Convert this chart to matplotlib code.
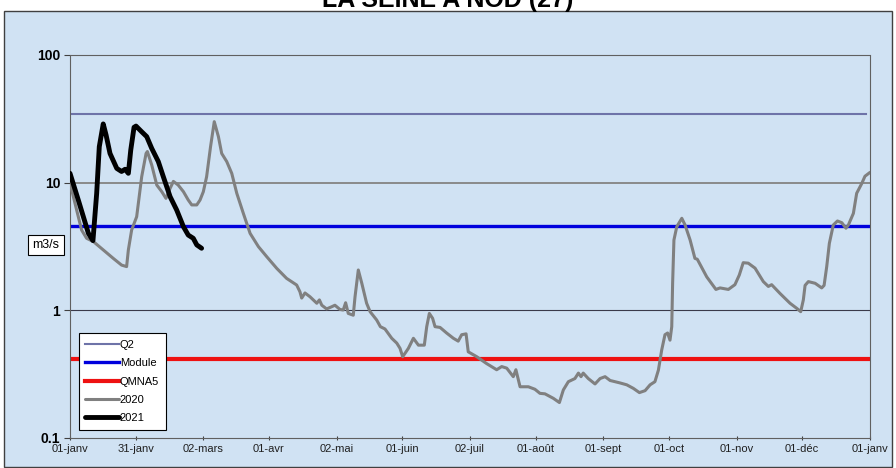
#!/usr/bin/env python3
"""Débits journaliers 2020 / 2021 avec seuils Q2, Module et QMNA5 (échelle log)."""

import matplotlib
matplotlib.use("Agg")
import matplotlib.pyplot as plt
from matplotlib.patches import Rectangle

plt.rcParams['font.family'] = ['Liberation Sans', 'DejaVu Sans']

# Seuils (m3/s)
q2 = 34.3
module = 4.58
qmna5 = 0.413

# Jours depuis le 1er janvier et débits
days_2020 = [0, 3, 5.3, 7.6, 10.7, 15.2, 19.8, 23.6, 25.9, 26.7, 28.2, 30.5, 32.8, 34.8,
             35.4, 37.4, 39.7, 42.0, 43.9, 45.8, 47.3, 49.5, 51.9, 54.1, 55.7, 58.0, 59.5,
             61.0, 62.5, 64.3, 66.0, 67.9, 69.4, 71.7, 74.0, 76.3, 79.3, 82.4, 86.2, 90.0,
             94.6, 99.1, 103.7, 105.2, 106.0, 107.5, 109.8, 112.9, 114.1, 115.2, 117.4,
             119.7, 121.2, 123.5, 125.0, 126.1, 127.3, 129.6, 130.4, 131.9, 133.5, 135.7,
             137.3, 140.3, 142.0, 144.1, 147.2, 149.5, 151.0, 152.2, 154.8, 157.1, 159.4,
             162.1, 163.2, 164.4, 165.9, 167.0, 169.3, 172.3, 175.4, 177.6, 179.2, 181.2,
             182.2, 186.1, 190.6, 195.2, 197.5, 199.8, 202.8, 204.0, 205.9, 209.7, 212.7,
             215.0, 217.3, 221.1, 223.9, 225.7, 228.0, 231.0, 232.6, 233.8, 234.8, 237.1,
             240.2, 242.5, 244.8, 247.1, 251.6, 254.7, 257.7, 260.5, 263.1, 265.4, 267.6,
             269.2, 270.7, 272.2, 273.4, 274.5, 275.3, 275.7, 276.3, 277.6, 279.9, 281.4,
             283.7, 285.9, 287.0, 291.3, 295.5, 297.4, 301.2, 304.2, 306.2, 308.0, 310.3,
             313.4, 317.2, 319.5, 321.0, 324.8, 329.4, 332.5, 334.3, 335.5, 336.3, 337.8,
             340.9, 343.9, 345.0, 346.2, 347.4, 349.2, 351.1, 353.1, 355.0, 356.1, 358.4,
             359.9, 362.2, 363.7, 366]
flow_2020 = [9.9, 6.1, 4.24, 3.65, 3.44, 2.96, 2.54, 2.25, 2.19, 2.96, 4.24, 5.39, 11.1, 16.9,
             17.5, 13.7, 9.55, 8.47, 7.51, 9.0, 10.2, 9.55, 8.47, 7.29, 6.67, 6.67, 7.29,
             8.47, 11.1, 19.1, 30.0, 22.9, 16.9, 14.6, 11.8, 8.23, 5.73, 3.99, 3.14, 2.62,
             2.12, 1.77, 1.57, 1.39, 1.24, 1.36, 1.27, 1.13, 1.20, 1.09, 1.02,
             1.06, 1.09, 1.01, 1.0, 1.14, 0.94, 0.91, 1.27, 2.06, 1.62, 1.13,
             0.97, 0.835, 0.74, 0.71, 0.60, 0.55, 0.50, 0.43, 0.50, 0.60, 0.53,
             0.53, 0.74, 0.94, 0.86, 0.74, 0.73, 0.66, 0.60, 0.57, 0.64, 0.65,
             0.47, 0.43, 0.38, 0.34, 0.36, 0.35, 0.30, 0.34, 0.25, 0.25, 0.239,
             0.222, 0.22, 0.203, 0.188, 0.236, 0.274, 0.29, 0.32, 0.30, 0.32, 0.29,
             0.263, 0.29, 0.30, 0.28, 0.268, 0.259, 0.243, 0.225, 0.233, 0.259, 0.274,
             0.338, 0.485, 0.64, 0.66, 0.58, 0.74, 1.62, 3.54, 4.50, 5.24, 4.64,
             3.54, 2.54, 2.5, 1.82, 1.45, 1.49, 1.45, 1.58, 1.88, 2.35, 2.33,
             2.13, 1.67, 1.53, 1.58, 1.35, 1.13, 1.03, 0.97, 1.2, 1.56, 1.67,
             1.62, 1.49, 1.56, 2.19, 3.33, 4.64, 4.99, 4.84, 4.38, 4.64, 5.73,
             8.23, 9.8, 11.2, 12.0]

days_2021 = [0, 4, 8.4, 10.5, 12.2, 13.4, 15.2, 16.5, 18.3, 21.4, 23.6, 25.2, 26.7, 27.8,
             29.3, 30.2, 32.8, 35.1, 37.4, 40.4, 42.7, 45.8, 48.8, 51.9, 54.1, 56.4, 58.0, 60.2]
flow_2021 = [11.8, 7.1, 4.0, 3.5, 8.2, 19.1, 28.8, 23.6, 16.9, 12.9, 12.2, 12.7, 11.8, 18.0,
             27.1, 27.7, 25.0, 22.9, 18.5, 14.6, 11.1, 7.74, 6.09, 4.50, 3.87, 3.65, 3.24, 3.05]

tick_days = [0, 30, 61, 91, 122, 152, 183, 213, 244, 274, 305, 335, 366]
tick_labels = ['01-janv', '31-janv', '02-mars', '01-avr', '02-mai', '01-juin', '02-juil',
               '01-août', '01-sept', '01-oct', '01-nov', '01-déc', '01-janv']

W, H = 896, 468
fig = plt.figure(figsize=(W / 100, H / 100), dpi=100, facecolor='white')

# zone du graphique (fond bleu, bordure)
fig.patches.append(Rectangle((4 / W, 1 / H), 888 / W, (H - 12) / H, transform=fig.transFigure,
                             facecolor='#d0e2f3', edgecolor='#404040', linewidth=1.0, zorder=-10))

fig.text(0.5, 1 - 7 / H, 'LA SEINE A NOD (27)', ha='center', va='baseline',
         fontsize=18, fontweight='bold')

ax = fig.add_axes([70 / W, 1 - 437.5 / H, 800 / W, 382.5 / H])
ax.set_facecolor('none')
ax.set_yscale('log')
ax.set_ylim(0.1, 100)
ax.set_xlim(0, 366)

ax.axhline(10, color='#8a8a8a', lw=1.4, zorder=1)
ax.axhline(1, color='#3a3a4a', lw=0.8, zorder=1)

ax.plot([0, 364], [q2, q2], color='#6e73a8', lw=1.5, label='Q2', zorder=2)
ax.plot([0, 366], [module, module], color='#0000dd', lw=2.4, label='Module', zorder=2)
ax.plot([0, 366], [qmna5, qmna5], color='#ee1111', lw=3.0, label='QMNA5', zorder=2)
ax.plot(days_2020, flow_2020, color='#808080', lw=2.2, label='2020', zorder=3,
        solid_joinstyle='round', solid_capstyle='round')
ax.plot(days_2021, flow_2021, color='black', lw=3.5, label='2021', zorder=4,
        solid_joinstyle='round', solid_capstyle='round')

for s in ax.spines.values():
    s.set_linestyle((0, (2, 1)))
    s.set_color('#606060')
    s.set_linewidth(0.8)

ax.set_yticks([0.1, 1, 10, 100])
ax.set_yticklabels(['0.1', '1', '10', '100'], fontsize=10, fontweight='bold')
ax.yaxis.set_minor_locator(matplotlib.ticker.NullLocator())
ax.tick_params(axis='y', length=4, width=0.8, color='#404040', pad=3)

ax.set_xticks(tick_days)
ax.set_xticklabels(tick_labels, fontsize=8, color='#202020')
ax.tick_params(axis='x', length=3, width=0.8, color='#404040', direction='inout', pad=3)

fig.text(46 / W, 1 - 245 / H, 'm3/s', ha='center', va='center', fontsize=9,
         bbox=dict(boxstyle='square,pad=0.35', facecolor='white', edgecolor='black', linewidth=0.8))

leg = ax.legend(loc='lower left', bbox_to_anchor=(0.011, 0.02), borderaxespad=0,
                fontsize=8, handlelength=3.0, handletextpad=0.1, labelspacing=0.75,
                fancybox=False, framealpha=1, edgecolor='black', borderpad=0.6)
leg.get_frame().set_linewidth(0.8)

plt.savefig('out.png', dpi=100, facecolor='white')
plt.close()
